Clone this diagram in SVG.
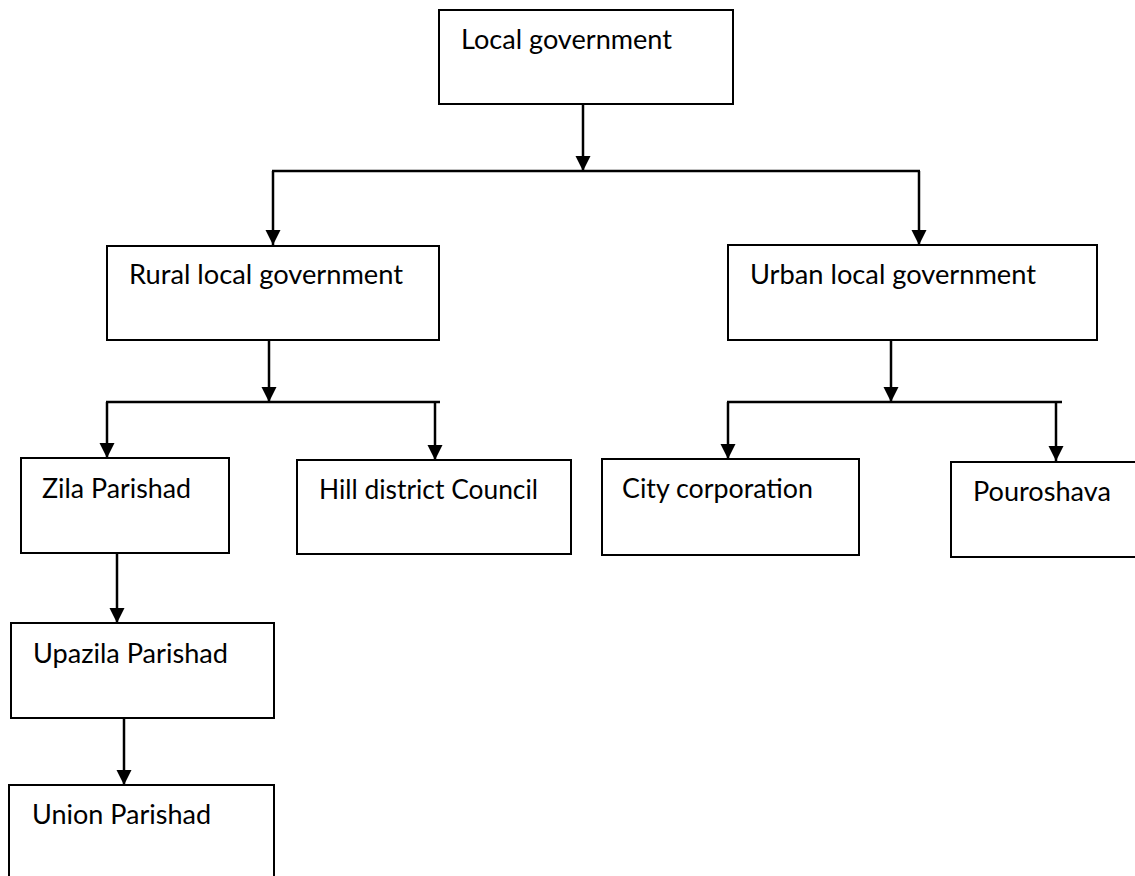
<svg xmlns="http://www.w3.org/2000/svg" width="1135" height="876" viewBox="0 0 1135 876">
  <defs>
    <marker id="arr" markerUnits="userSpaceOnUse" markerWidth="15" markerHeight="16" refX="15" refY="7.5" orient="auto">
      <path d="M0,0 L15,7.5 L0,15 Z" fill="#000"/>
    </marker>
    <style>
      .box { fill: #fff; stroke: #000; stroke-width: 2; }
      .lbl { font-family: Lato, "Liberation Sans", sans-serif; font-size: 26px; fill: #000; }
      .ln { fill: none; stroke: #000; stroke-width: 2.5; }
      .ar { fill: none; stroke: #000; stroke-width: 2.5; marker-end: url(#arr); }
    </style>
  </defs>
  <rect width="1135" height="876" fill="#fff"/>

  <g id="connectors">
    <line class="ar" x1="583" y1="104" x2="583" y2="171"/>
    <line class="ln" x1="272" y1="171" x2="920" y2="171"/>
    <line class="ar" x1="273" y1="171" x2="273" y2="245"/>
    <line class="ar" x1="919" y1="171" x2="919" y2="245"/>

    <line class="ar" x1="269" y1="337" x2="269" y2="402"/>
    <line class="ln" x1="106" y1="402" x2="440" y2="402"/>
    <line class="ar" x1="107" y1="402" x2="107" y2="458"/>
    <line class="ar" x1="435" y1="402" x2="435" y2="460"/>

    <line class="ar" x1="891" y1="337" x2="891" y2="402"/>
    <line class="ln" x1="727" y1="402" x2="1062" y2="402"/>
    <line class="ar" x1="728" y1="402" x2="728" y2="459"/>
    <line class="ar" x1="1056" y1="402" x2="1056" y2="461"/>

    <line class="ar" x1="117" y1="553" x2="117" y2="623"/>
    <line class="ar" x1="124" y1="713" x2="124" y2="785"/>
  </g>

  <g id="local-government">
    <rect class="box" x="439" y="10" width="294" height="94"/>
    <text class="lbl" x="461" y="49" textLength="211" lengthAdjust="spacingAndGlyphs">Local government</text>
  </g>
  <g id="rural-local-government">
    <rect class="box" x="107" y="246" width="332" height="94"/>
    <text class="lbl" x="129" y="284" textLength="274" lengthAdjust="spacingAndGlyphs">Rural local government</text>
  </g>
  <g id="urban-local-government">
    <rect class="box" x="728" y="245" width="369" height="95"/>
    <text class="lbl" x="750" y="284" textLength="286" lengthAdjust="spacingAndGlyphs">Urban local government</text>
  </g>
  <g id="zila-parishad">
    <rect class="box" x="21" y="458" width="208" height="95"/>
    <text class="lbl" x="42" y="498" textLength="149" lengthAdjust="spacingAndGlyphs">Zila Parishad</text>
  </g>
  <g id="hill-district-council">
    <rect class="box" x="297" y="460" width="274" height="94"/>
    <text class="lbl" x="319" y="499" textLength="219" lengthAdjust="spacingAndGlyphs">Hill district Council</text>
  </g>
  <g id="city-corporation">
    <rect class="box" x="602" y="459" width="257" height="96"/>
    <text class="lbl" x="622" y="498" textLength="191" lengthAdjust="spacingAndGlyphs">City corporation</text>
  </g>
  <g id="pouroshava">
    <rect class="box" x="951" y="462" width="200" height="95"/>
    <text class="lbl" x="973" y="501" textLength="138" lengthAdjust="spacingAndGlyphs">Pouroshava</text>
  </g>
  <g id="upazila-parishad">
    <rect class="box" x="11" y="623" width="263" height="95"/>
    <text class="lbl" x="33" y="663" textLength="195" lengthAdjust="spacingAndGlyphs">Upazila Parishad</text>
  </g>
  <g id="union-parishad">
    <rect class="box" x="9" y="785" width="265" height="100"/>
    <text class="lbl" x="32" y="824" textLength="179" lengthAdjust="spacingAndGlyphs">Union Parishad</text>
  </g>
</svg>
